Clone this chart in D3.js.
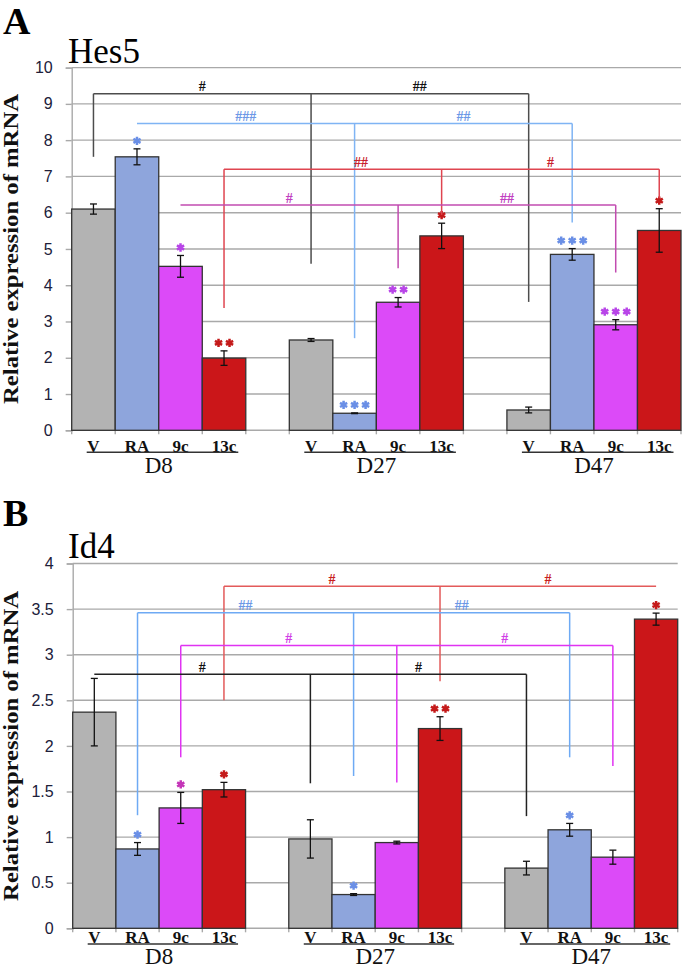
<!DOCTYPE html>
<html>
<head>
<meta charset="utf-8">
<script src="https://cdn.jsdelivr.net/npm/d3@7"></script>
<style>
  html, body { margin: 0; padding: 0; background: #fff; }
  svg { display: block; }
</style>
</head>
<body>
<div id="chart"></div>
<script>
// groups / treatments
const groups = ["D8", "D27", "D47"];
const treatments = ["V", "RA", "9c", "13c"];

// Hes5 (panel A), order: D8 V,RA,9c,13c, D27 ..., D47 ...
const hes5Mean = [6.10, 7.54, 4.52, 1.99, 2.49, 0.47, 3.53, 5.36, 0.56, 4.85, 2.91, 5.51];
const hes5Err = [0.14, 0.22, 0.30, 0.20, 0.04, 0.01, 0.13, 0.35, 0.08, 0.16, 0.14, 0.60];
const hes5Stars = ["", "*", "*", "**", "", "***", "**", "*", "", "***", "***", "*"];
const hes5Ticks = [0, 1, 2, 3, 4, 5, 6, 7, 8, 9, 10];
// brackets: treatment, level, leg ends per group (null = no leg), marks
const hes5Brackets = [
  { treatment: "V", level: 9.28, ends: [7.54, 4.59, 3.54], marks: ["#", "##"] },
  { treatment: "RA", level: 8.46, ends: [null, 2.54, 5.73], marks: ["###", "##"] },
  { treatment: "13c", level: 7.20, ends: [3.37, 5.94, 6.40], marks: ["##", "#"], markAt: [0.63, 0.5] },
  { treatment: "9c", level: 6.21, ends: [null, 4.47, 4.35], marks: ["#", "##"] }
];

// Id4 (panel B)
const id4Mean = [2.37, 0.87, 1.32, 1.52, 0.98, 0.37, 0.94, 2.19, 0.66, 1.08, 0.78, 3.39];
const id4Err = [0.37, 0.07, 0.17, 0.08, 0.21, 0.01, 0.015, 0.13, 0.075, 0.07, 0.077, 0.066];
const id4Stars = ["", "*", "*", "*", "", "*", "", "**", "", "*", "", "*"];
const id4Ticks = [0, 0.5, 1, 1.5, 2, 2.5, 3, 3.5, 4];
const id4Brackets = [
  { treatment: "13c", level: 3.75, ends: [2.50, 2.71, null], marks: ["#", "#"] },
  { treatment: "RA", level: 3.46, ends: [1.24, 1.67, 1.875], marks: ["##", "##"] },
  { treatment: "9c", level: 3.10, ends: [1.875, 1.60, 1.78], marks: ["#", "#"] },
  { treatment: "V", level: 2.785, ends: [null, 1.59, 1.23], marks: ["#", "#"] }
];

const W = 683, H = 968;
const barColor = { "V": "#b3b3b3", "RA": "#8ea5dc", "9c": "#dc4af8", "13c": "#cb1619" };
const serif = "'Liberation Serif', 'Times New Roman', serif";

const svg = d3.select("#chart").append("svg")
  .attr("width", W)
  .attr("height", H);

function drawPanel(p) {
  const g = svg.append("g");
  const y = d3.scaleLinear().domain([0, d3.max(p.ticks)]).range([p.yBottom, p.yTop]);
  const x = d3.scaleBand().domain(d3.range(14)).range([p.x0, p.x1]).padding(0);
  const bw = x.bandwidth();
  const slotOf = (gi, ti) => gi * 5 + ti;
  const cx = s => x(s) + bw / 2;

  // grid lines
  g.append("g").selectAll("line")
    .data(p.ticks.filter(t => t > 0))
    .join("line")
    .attr("x1", p.x0).attr("x2", p.x1)
    .attr("y1", d => y(d)).attr("y2", d => y(d))
    .attr("stroke", "#a9a9a9").attr("stroke-width", 1.4);

  // y axis
  const ax = g.append("g")
    .attr("transform", `translate(${p.x0},0)`)
    .call(d3.axisLeft(y).tickValues(p.ticks).tickSize(6).tickPadding(13).tickFormat(d3.format("~g")));
  ax.select(".domain").attr("stroke", "#a9a9a9").attr("stroke-width", 1.4);
  ax.selectAll(".tick line").attr("stroke", "#a9a9a9").attr("stroke-width", 1.4);
  ax.selectAll(".tick text")
    .attr("fill", "#20203a")
    .style("font-family", "'Liberation Sans', Arial, sans-serif")
    .style("font-size", "16px");

  // x axis line and ticks
  g.append("line")
    .attr("x1", p.x0).attr("x2", p.x1)
    .attr("y1", p.yBottom).attr("y2", p.yBottom)
    .attr("stroke", "#a9a9a9").attr("stroke-width", 1.4);
  g.append("g").selectAll("line")
    .data(d3.range(15))
    .join("line")
    .attr("x1", d => p.x0 + d * bw).attr("x2", d => p.x0 + d * bw)
    .attr("y1", p.yBottom).attr("y2", p.yBottom + 4)
    .attr("stroke", "#a9a9a9").attr("stroke-width", 1.4);

  // bars
  const rows = [];
  groups.forEach((gr, gi) => treatments.forEach((t, ti) => {
    const i = gi * 4 + ti;
    rows.push({ slot: slotOf(gi, ti), t, mean: p.mean[i], err: p.err[i], stars: p.stars[i] });
  }));

  g.append("g").selectAll("rect")
    .data(rows)
    .join("rect")
    .attr("x", d => x(d.slot))
    .attr("width", bw)
    .attr("y", d => y(d.mean))
    .attr("height", d => y(0) - y(d.mean))
    .attr("fill", d => barColor[d.t])
    .attr("stroke", "#333")
    .attr("stroke-width", 1.3);

  // error bars
  const eb = g.append("g").selectAll("g").data(rows).join("g")
    .attr("stroke", "#111").attr("stroke-width", 1.3);
  eb.append("line")
    .attr("x1", d => cx(d.slot)).attr("x2", d => cx(d.slot))
    .attr("y1", d => y(d.mean - d.err)).attr("y2", d => y(d.mean + d.err));
  eb.append("line")
    .attr("x1", d => cx(d.slot) - 3.5).attr("x2", d => cx(d.slot) + 3.5)
    .attr("y1", d => y(d.mean - d.err)).attr("y2", d => y(d.mean - d.err));
  eb.append("line")
    .attr("x1", d => cx(d.slot) - 3.5).attr("x2", d => cx(d.slot) + 3.5)
    .attr("y1", d => y(d.mean + d.err)).attr("y2", d => y(d.mean + d.err));

  // significance stars
  const star = d3.symbol(d3.symbolAsterisk, 48);
  rows.forEach(d => {
    const n = d.stars.length;
    for (let k = 0; k < n; k++) {
      g.append("path")
        .attr("d", star())
        .attr("transform", `translate(${cx(d.slot) + (k - (n - 1) / 2) * 11},${y(d.mean + d.err) - 8})`)
        .attr("stroke", p.starColor[d.t])
        .attr("stroke-width", 2.5)
        .attr("fill", "none");
    }
  });

  // comparison brackets
  p.brackets.forEach(b => {
    const ti = treatments.indexOf(b.treatment);
    const st = p.bracketStyle[b.treatment];
    const xs = groups.map((gr, gi) => cx(slotOf(gi, ti)));
    const ly = y(b.level);
    const bg = g.append("g");
    bg.append("line")
      .attr("x1", xs[0]).attr("x2", xs[xs.length - 1])
      .attr("y1", ly).attr("y2", ly)
      .attr("stroke", st.line).attr("stroke-width", 1.5);
    b.ends.forEach((e, gi) => {
      if (e === null) return;
      bg.append("line")
        .attr("x1", xs[gi]).attr("x2", xs[gi])
        .attr("y1", ly).attr("y2", y(e))
        .attr("stroke", st.line).attr("stroke-width", 1.5);
    });
    b.marks.forEach((m, k) => {
      const f = b.markAt ? b.markAt[k] : 0.5;
      bg.append("text")
        .attr("x", xs[k] + (xs[k + 1] - xs[k]) * f)
        .attr("y", ly - 2.5)
        .attr("text-anchor", "middle")
        .attr("fill", st.text)
        .style("font-family", serif)
        .style("font-weight", "bold")
        .style("font-size", "14px")
        .text(m);
    });
  });

  // category labels
  groups.forEach((gr, gi) => {
    treatments.forEach((t, ti) => {
      g.append("text")
        .attr("x", cx(slotOf(gi, ti)))
        .attr("y", p.subY)
        .attr("text-anchor", "middle")
        .attr("fill", "#111")
        .style("font-family", serif)
        .style("font-weight", "bold")
        .style("font-size", "17px")
        .text(t);
    });
    g.append("line")
      .attr("x1", x(slotOf(gi, 0)) + 15)
      .attr("x2", x(slotOf(gi, 3)) + bw - 7.5)
      .attr("y1", p.subY + 0.8).attr("y2", p.subY + 0.8)
      .attr("stroke", "#333").attr("stroke-width", 1.5);
    g.append("text")
      .attr("x", x(slotOf(gi, 0)) + 2 * bw)
      .attr("y", p.groupY)
      .attr("text-anchor", "middle")
      .attr("fill", "#111")
      .style("font-family", serif)
      .style("font-size", "23px")
      .text(gr);
  });

  // y title
  g.append("text")
    .attr("transform", `translate(${p.titleX},${(p.yTop + p.yBottom) / 2}) rotate(-90)`)
    .attr("text-anchor", "middle")
    .attr("fill", "#111")
    .attr("textLength", 310)
    .attr("lengthAdjust", "spacingAndGlyphs")
    .style("font-family", serif)
    .style("font-weight", "bold")
    .style("font-size", "20px")
    .text("Relative expression of mRNA");

  // panel letter and gene name
  g.append("text")
    .attr("x", 3).attr("y", p.letterY)
    .attr("fill", "#000")
    .style("font-family", serif)
    .style("font-weight", "bold")
    .style("font-size", "38px")
    .text(p.letter);
  g.append("text")
    .attr("x", 68).attr("y", p.geneY)
    .attr("fill", "#000")
    .style("font-family", serif)
    .style("font-size", "35px")
    .text(p.gene);
}

drawPanel({
  letter: "A", gene: "Hes5", letterY: 34, geneY: 63,
  x0: 71.7, x1: 681, yTop: 67.6, yBottom: 430.3,
  ticks: hes5Ticks, mean: hes5Mean, err: hes5Err, stars: hes5Stars, brackets: hes5Brackets,
  subY: 451.5, groupY: 472.7, titleX: 18,
  starColor: { "RA": "#6a8fe6", "9c": "#b845e8", "13c": "#c41a1a" },
  bracketStyle: {
    "V": { line: "#4d4d4d", text: "#111" },
    "RA": { line: "#7fb4f4", text: "#6d98e6" },
    "13c": { line: "#df4550", text: "#c8202c" },
    "9c": { line: "#c24bb0", text: "#c040c0" }
  }
});

drawPanel({
  letter: "B", gene: "Id4", letterY: 526, geneY: 558,
  x0: 72.7, x1: 677.7, yTop: 563.5, yBottom: 928.3,
  ticks: id4Ticks, mean: id4Mean, err: id4Err, stars: id4Stars, brackets: id4Brackets,
  subY: 943.3, groupY: 964, titleX: 18,
  starColor: { "RA": "#6a8fe6", "9c": "#c435b8", "13c": "#c41a1a" },
  bracketStyle: {
    "V": { line: "#222", text: "#111" },
    "RA": { line: "#6eaaf4", text: "#6d98e6" },
    "13c": { line: "#e35a5a", text: "#c82020" },
    "9c": { line: "#e033f2", text: "#d040e6" }
  }
});
</script>
</body>
</html>
